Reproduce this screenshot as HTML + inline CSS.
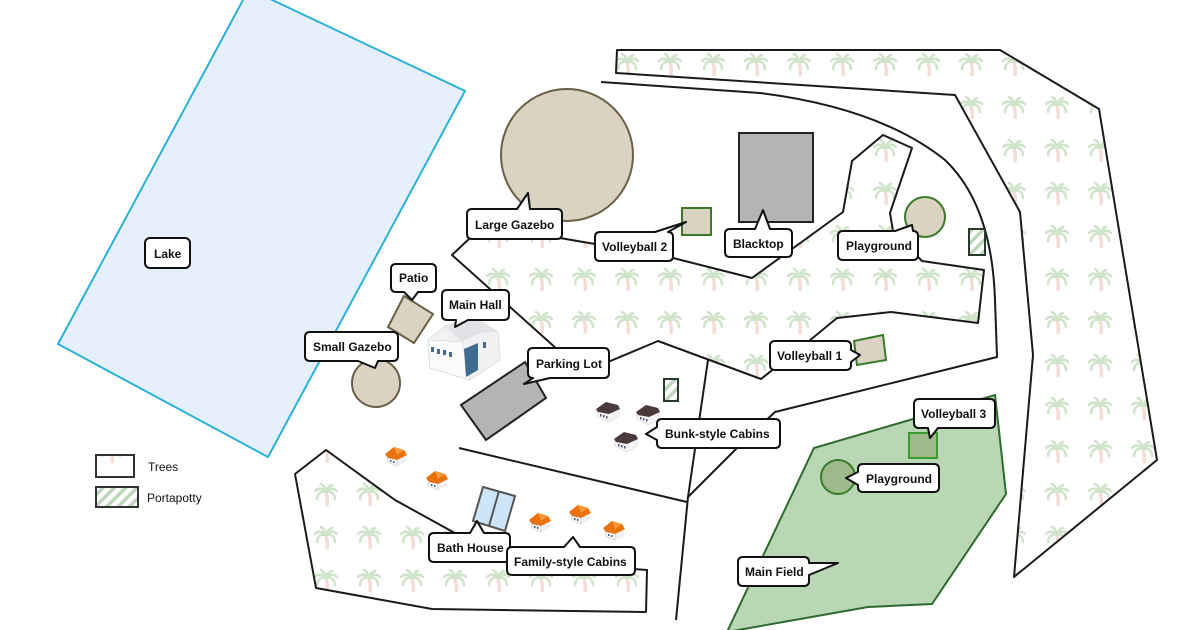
<!DOCTYPE html>
<html><head><meta charset="utf-8"><style>
html,body{margin:0;padding:0;background:#fff;}
svg{display:block;}
text{font-family:"Liberation Sans",sans-serif;font-weight:bold;font-size:12px;fill:#111;}
.lb{fill:#fff;stroke:#111;stroke-width:2;stroke-linejoin:round;}
.ln{fill:none;stroke:#1a1a1a;stroke-width:2;stroke-linejoin:round;}
.tr{fill:url(#palm);stroke:#1a1a1a;stroke-width:2;stroke-linejoin:round;}
.tan{fill:#dbd3c1;}
</style></head><body>
<svg width="1200" height="630" viewBox="0 0 1200 630" xmlns="http://www.w3.org/2000/svg">
<defs>
<pattern id="palm" patternUnits="userSpaceOnUse" x="0" y="0" width="43" height="43">
<rect width="43" height="43" fill="#fff"/>
<path d="M25,20 Q27,26 26,33" stroke="#f4dcd5" stroke-width="3.4" fill="none"/>
<path d="M25,19 Q19,13 14,18 M25,19 Q31,13 36,18 M25,19 Q17,17 16,26 M25,19 Q33,17 34,26 M25,19 Q24,13 20,11 M25,19 Q27,13 31,12" stroke="#d0e4cb" stroke-width="2.6" fill="none" stroke-linecap="round"/>
</pattern>
<pattern id="hatch" patternUnits="userSpaceOnUse" width="8" height="8" patternTransform="rotate(45)">
<rect width="8" height="8" fill="#fff"/>
<rect width="3.5" height="8" fill="#bfd6bc"/>
</pattern>
<g id="hcab">
<path d="M0,6 L10,0 L20,5 L20,14 L10,19 L0,13 Z" fill="#f1f1f3"/>
<path d="M-1,6 L8,-1 L18,2 L21,7 L11,12 L2,10 Z" fill="#e8720c"/>
<path d="M8,-1 L18,2 L11,7 Z" fill="#f59a3c"/>
<path d="M2,10 L11,12 L11,18 L2,14 Z" fill="#fff" stroke="#bbb" stroke-width=".5"/>
<rect x="4" y="12" width="1.5" height="2" fill="#557"/><rect x="7" y="13" width="1.5" height="2" fill="#557"/>
</g>
<g id="bcab">
<path d="M0,7 L10,2 L22,6 L22,14 L12,20 L0,14 Z" fill="#f4f4f6" stroke="#ccc" stroke-width=".5"/>
<path d="M-1,7 L9,0 L21,3 L23,7 L12,12 L1,10 Z" fill="#4a3a3c"/>
<rect x="3" y="12" width="1.5" height="2.5" fill="#557"/><rect x="6" y="13" width="1.5" height="2.5" fill="#557"/><rect x="9" y="14" width="1.5" height="2.5" fill="#557"/>
</g>
</defs>

<polygon points="230,-20 465,91 268,457 58,344 243,0" fill="#e6f0fc" stroke="#2bb0d8" stroke-width="2"/>

<polygon class="tr" points="617,50 1000,50 1099,109 1157,460 1014,577 1033,355 1020,212 955,95 616,73"/>
<polygon class="tr" points="452,255 470,238 560,238 595,244 673,258 752,278 843,212 852,161 883,135 912,148 890,213 893,231 922,261 984,270 978,323 891,312 837,318 809,341 761,379 658,341 608,362 558,350"/>
<polygon class="tr" points="295,474 326,450 395,500 453,532 510,560 647,570 646,612 432,609 316,588"/>

<path class="ln" d="M601,82 L760,93 Q880,108 945,160 Q992,205 995,300 L997,357 L775,412 L745,440 L688,497"/>
<path class="ln" d="M708,360 L688,497 L676,620"/>
<path class="ln" d="M459,448 L687,502"/>

<polygon points="814,448 995,395 1006,494 932,604 868,607 727,632" fill="#b9d7b4" stroke="#2e6a2e" stroke-width="2"/>
<circle cx="838" cy="477" r="17" fill="#9dba8a" stroke="#3a7a2a" stroke-width="2"/>
<rect x="909" y="433" width="28" height="25" fill="#9dba8a" stroke="#3a9a2a" stroke-width="2"/>

<circle cx="567" cy="155" r="66" class="tan" stroke="#6b5f47" stroke-width="2"/>
<circle cx="376" cy="383" r="24" class="tan" stroke="#6b5f47" stroke-width="2"/>
<polygon points="404,296 433,314 414,343 388,327" class="tan" stroke="#6b5f47" stroke-width="2"/>
<polygon points="461,405 525,362 546,398 486,440" fill="#b3b5b3" stroke="#222" stroke-width="2"/>
<rect x="739" y="133" width="74" height="89" fill="#b3b5b3" stroke="#222" stroke-width="2"/>
<rect x="682" y="208" width="29" height="27" class="tan" stroke="#3a7a2a" stroke-width="2"/>
<circle cx="925" cy="217" r="20" class="tan" stroke="#3a7a2a" stroke-width="2"/>
<polygon points="854,341 883,335 886,360 857,365" class="tan" stroke="#3a7a2a" stroke-width="2"/>
<rect x="969" y="229" width="16" height="26" fill="url(#hatch)" stroke="#2a3a2a" stroke-width="2"/>
<rect x="664" y="379" width="14" height="22" fill="url(#hatch)" stroke="#2a3a2a" stroke-width="2"/>

<polygon points="483,487 515,496 505,531 473,521" fill="#cce5f7" stroke="#555" stroke-width="2"/>
<line x1="499" y1="491" x2="489" y2="526" stroke="#555" stroke-width="2"/>

<g>
<path d="M428,340 L445,326 L482,322 L498,332 L500,360 L470,380 L430,368 Z" fill="#f1f1f3" stroke="#ddd"/>
<path d="M445,326 Q470,316 482,322 L498,332 Q480,330 462,342 Z" fill="#e2e2e6"/>
<path d="M428,340 L462,342 L470,380 L430,368 Z" fill="#fafafa" stroke="#ccc" stroke-width=".5"/>
<rect x="431" y="347" width="3" height="5" fill="#4a6a8a"/><rect x="437" y="349" width="3" height="5" fill="#4a6a8a"/><rect x="443" y="350" width="3" height="5" fill="#4a6a8a"/><rect x="449" y="352" width="3" height="5" fill="#4a6a8a"/>
<path d="M464,349 L478,343 L478,370 L466,377 Z" fill="#3f6b8c"/>
<rect x="483" y="342" width="3" height="6" fill="#4a6a8a"/>
</g>

<use href="#hcab" x="386" y="448"/>
<use href="#hcab" x="427" y="472"/>
<use href="#hcab" x="530" y="514"/>
<use href="#hcab" x="570" y="506"/>
<use href="#hcab" x="604" y="522"/>
<use href="#bcab" x="597" y="402"/>
<use href="#bcab" x="637" y="405"/>
<use href="#bcab" x="615" y="432"/>

<rect class="lb" x="145" y="238" width="45" height="30" rx="5"/><text x="154" y="258">Lake</text>

<path class="lb" d="M472,209 H517 L528,193 L530,209 H557 Q562,209 562,214 V234 Q562,239 557,239 H472 Q467,239 467,234 V214 Q467,209 472,209 Z"/><text x="475" y="229">Large Gazebo</text>

<path class="lb" d="M600,232 H655 L686,222 L668,232 Q673,232 673,237 V256 Q673,261 668,261 H600 Q595,261 595,256 V237 Q595,232 600,232 Z"/><text x="602" y="251">Volleyball 2</text>

<path class="lb" d="M730,229 H755 L763,210 L770,229 H787 Q792,229 792,234 V252 Q792,257 787,257 H730 Q725,257 725,252 V234 Q725,229 730,229 Z"/><text x="733" y="248">Blacktop</text>

<path class="lb" d="M843,231 H895 L912,225 L913,231 Q918,231 918,236 V255 Q918,260 913,260 H843 Q838,260 838,255 V236 Q838,231 843,231 Z"/><text x="846" y="250">Playground</text>

<path class="lb" d="M396,264 H431 Q436,264 436,269 V287 Q436,292 431,292 H418 L412,300 L404,292 H396 Q391,292 391,287 V269 Q391,264 396,264 Z"/><text x="399" y="282">Patio</text>

<path class="lb" d="M447,290 H504 Q509,290 509,295 V315 Q509,320 504,320 H468 L455,327 L456,320 H447 Q442,320 442,315 V295 Q442,290 447,290 Z"/><text x="449" y="309">Main Hall</text>

<path class="lb" d="M310,332 H393 Q398,332 398,337 V356 Q398,361 393,361 H378 L375,368 L358,361 H310 Q305,361 305,356 V337 Q305,332 310,332 Z"/><text x="313" y="351">Small Gazebo</text>

<path class="lb" d="M533,348 H604 Q609,348 609,353 V373 Q609,378 604,378 H550 L524,384 L533,378 Q528,378 528,373 V353 Q528,348 533,348 Z"/><text x="536" y="368">Parking Lot</text>

<path class="lb" d="M775,341 H846 Q851,341 851,346 V350 L860,355 L851,362 V365 Q851,370 846,370 H775 Q770,370 770,365 V346 Q770,341 775,341 Z"/><text x="777" y="360">Volleyball 1</text>

<path class="lb" d="M919,399 H990 Q995,399 995,404 V423 Q995,428 990,428 H938 L930,438 L928,428 H919 Q914,428 914,423 V404 Q914,399 919,399 Z"/><text x="921" y="418">Volleyball 3</text>

<path class="lb" d="M662,419 H775 Q780,419 780,424 V443 Q780,448 775,448 H662 Q657,448 657,443 V440 L646,434 L657,427 V424 Q657,419 662,419 Z"/><text x="665" y="438">Bunk-style Cabins</text>

<path class="lb" d="M863,464 H934 Q939,464 939,469 V487 Q939,492 934,492 H863 Q858,492 858,487 V485 L846,478 L858,472 V469 Q858,464 863,464 Z"/><text x="866" y="483">Playground</text>

<path class="lb" d="M434,533 H470 L477,521 L484,533 H505 Q510,533 510,538 V557 Q510,562 505,562 H434 Q429,562 429,557 V538 Q429,533 434,533 Z"/><text x="437" y="552">Bath House</text>

<path class="lb" d="M512,547 H564 L573,537 L580,547 H630 Q635,547 635,552 V570 Q635,575 630,575 H512 Q507,575 507,570 V552 Q507,547 512,547 Z"/><text x="514" y="566">Family-style Cabins</text>

<path class="lb" d="M743,557 H804 Q809,557 809,562 V563 L838,563 L809,575 V581 Q809,586 804,586 H743 Q738,586 738,581 V562 Q738,557 743,557 Z"/><text x="745" y="576">Main Field</text>

<rect x="96" y="455" width="38" height="22" fill="url(#palm)" stroke="#333" stroke-width="2"/>
<text x="148" y="471" style="font-weight:normal;font-size:12px">Trees</text>
<rect x="96" y="487" width="42" height="20" fill="url(#hatch)" stroke="#333" stroke-width="2"/>
<text x="147" y="502" style="font-weight:normal;font-size:12px">Portapotty</text>
</svg>
</body></html>
